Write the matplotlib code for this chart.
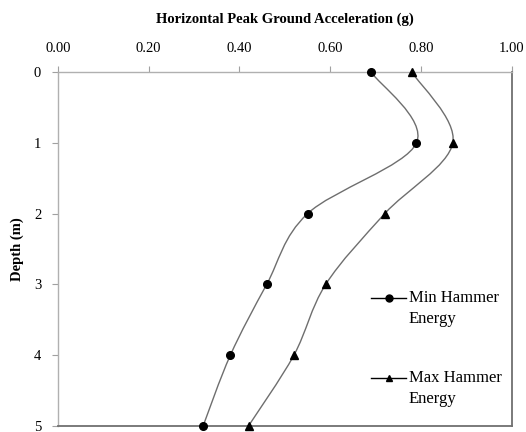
import numpy as np
import matplotlib
matplotlib.use("Agg")
import matplotlib.pyplot as plt
from matplotlib.path import Path
from matplotlib.patches import PathPatch
from matplotlib.lines import Line2D

plt.rcParams['font.family'] = ['Liberation Serif', 'DejaVu Serif']

# data
depth = [0, 1, 2, 3, 4, 5]
min_energy = [0.69, 0.79, 0.55, 0.46, 0.38, 0.32]
max_energy = [0.78, 0.87, 0.72, 0.59, 0.52, 0.42]
x_ticks = [0.0, 0.2, 0.4, 0.6, 0.8, 1.0]
y_ticks = [0, 1, 2, 3, 4, 5]

line_col = '#6e6e6e'


def smooth_path(xs, ys):
    # excel style smoothed line: cubic bezier segments through the points
    pts = np.column_stack([xs, ys]).astype(float)
    n = len(pts)
    verts = [pts[0]]
    codes = [Path.MOVETO]
    for i in range(n - 1):
        p0 = pts[i - 1] if i > 0 else pts[i]
        p1 = pts[i]
        p2 = pts[i + 1]
        p3 = pts[i + 2] if i + 2 < n else pts[i + 1]
        c1 = p1 + (p2 - p0) / 6.0
        c2 = p2 - (p3 - p1) / 6.0
        verts += [c1, c2, p2]
        codes += [Path.CURVE4] * 3
    return Path(verts, codes)


fig = plt.figure(figsize=(5.26, 4.32), dpi=100)
ax = fig.add_axes([0.110, 0.014, 0.863, 0.819])

for vals, mk in [(min_energy, 'o'), (max_energy, '^')]:
    ax.add_patch(PathPatch(smooth_path(vals, depth), facecolor='none',
                           edgecolor=line_col, lw=1.0, zorder=2))
    ax.plot(vals, depth, linestyle='none', marker=mk, color='black',
            markersize=5.5, zorder=3, clip_on=False)

ax.set_xlim(0, 1.0)
ax.set_ylim(5, 0)
ax.set_xticks(x_ticks)
ax.set_xticklabels([f'{v:.2f}' for v in x_ticks])
ax.set_yticks(y_ticks)
ax.xaxis.tick_top()
ax.xaxis.set_label_position('top')
ax.set_xlabel('Horizontal Peak Ground Acceleration (g)', fontsize=10.5,
              fontweight='bold', labelpad=14)
ax.set_ylabel('Depth (m)', fontsize=10.5, fontweight='bold', labelpad=7)
ax.tick_params(axis='both', labelsize=10.5, color='#a0a0a0', length=4, width=0.8)
ax.tick_params(axis='x', pad=8)
ax.tick_params(axis='y', pad=8)

for side in ['top', 'left']:
    ax.spines[side].set_color('#b0b0b0')
    ax.spines[side].set_linewidth(1.0)
for side in ['right', 'bottom']:
    ax.spines[side].set_color('#707070')
    ax.spines[side].set_linewidth(1.3)

handles = [
    Line2D([], [], color='black', lw=1.0, marker='o', markersize=5),
    Line2D([], [], color='black', lw=1.0, marker='^', markersize=5),
]
leg = ax.legend(handles, ['Min Hammer\nEnergy', 'Max Hammer\nEnergy'], frameon=False,
                fontsize=12, loc='upper left', bbox_to_anchor=(0.657, 0.427),
                handlelength=2.1, handletextpad=0.15, labelspacing=2.6)
for t in leg.get_texts():
    t.set_linespacing(1.4)
# excel puts the key beside the first line of a wrapped entry
for ln in leg.get_lines():
    ln.set_ydata(np.asarray(ln.get_ydata()) + 7.5)

fig.savefig('out.png', dpi=100)
